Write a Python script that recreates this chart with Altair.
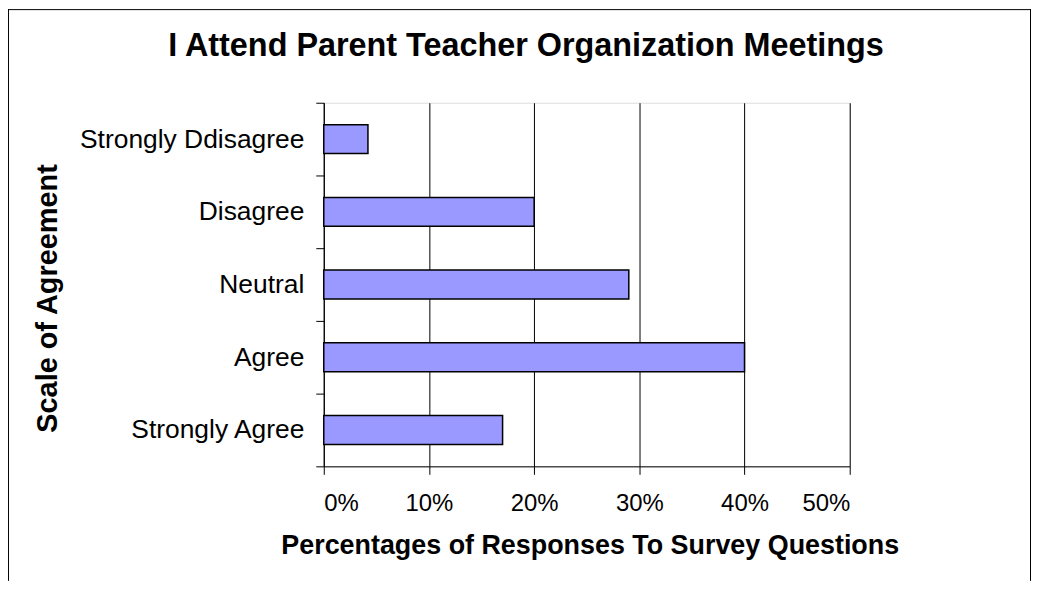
import altair as alt
import pandas as pd

categories = ["Strongly Ddisagree", "Disagree", "Neutral", "Agree", "Strongly Agree"]
values = [0.042, 0.20, 0.29, 0.40, 0.17]
x_ticks = [0, 0.1, 0.2, 0.3, 0.4, 0.5]

title_text = "I Attend Parent Teacher Organization Meetings"
x_title = "Percentages of Responses To Survey Questions"
y_title = "Scale of Agreement"

df = pd.DataFrame({"category": categories, "value": values})
one = pd.DataFrame({"k": [0]})

W, H = 528, 365
PL, PT, PR, PB = 317, 94, 182, 115
FONT = "Liberation Sans"

bars = alt.Chart(df).mark_bar(
    fill="#9999FF", stroke="#000000", strokeWidth=1.5, size=29
).encode(
    x=alt.X(
        "value:Q",
        scale=alt.Scale(domain=[0, 0.5], nice=False),
        axis=alt.Axis(
            values=x_ticks, format="%", title=x_title,
            grid=True, gridColor="#000000", gridWidth=1, gridOpacity=1,
            domainColor="#000000", domainWidth=1,
            tickColor="#000000", tickSize=8, tickWidth=1,
            labelFont=FONT, labelFontSize=24, labelColor="#000000",
            labelBaseline="alphabetic", labelPadding=36,
            titleFont=FONT, titleFontSize=27, titleFontWeight="bold", titleColor="#000000",
            titleBaseline="alphabetic", titleX=W / 2 + 3, titleY=88, titleAlign="center",
        ),
    ),
    y=alt.Y(
        "category:N",
        sort=categories,
        scale=alt.Scale(paddingInner=0, paddingOuter=0),
        axis=alt.Axis(
            title=y_title, grid=False, tickBand="extent",
            domainColor="#000000", domainWidth=1,
            tickColor="#000000", tickSize=8, tickWidth=1,
            labelFont=FONT, labelFontSize=26.5, labelColor="#000000", labelPadding=12,
            labelLimit=400,
            titleFont=FONT, titleFontSize=29, titleFontWeight="bold", titleColor="#000000",
            titleAngle=270, titleBaseline="alphabetic", titleAlign="center",
            titleX=-268, titleY=196,
        ),
    ),
)

left_border = alt.Chart(one).mark_rule(color="#000000", strokeWidth=1).encode(
    x=alt.value(-PL + 0.5), y=alt.value(-PT), y2=alt.value(H + PB)
)
top_border = alt.Chart(one).mark_rule(color="#000000", strokeWidth=1).encode(
    x=alt.value(-PL), x2=alt.value(W + PR), y=alt.value(-PT + 0.5)
)
right_border = alt.Chart(one).mark_rule(color="#000000", strokeWidth=1).encode(
    x=alt.value(W + PR - 0.5), y=alt.value(-PT), y2=alt.value(H + PB)
)

chart = alt.layer(bars, left_border, top_border, right_border).properties(
    width=W, height=H,
    autosize=alt.AutoSizeParams(type="none"),
    padding={"left": PL, "top": PT, "right": PR, "bottom": PB},
    title=alt.TitleParams(
        text=title_text, font=FONT, fontSize=32.5, fontWeight="bold", color="#000000",
        anchor="middle", frame="group", dx=-61, baseline="alphabetic", offset=-80,
    ),
).configure_view(stroke=None).configure(background="#ffffff")

chart.save("out.html", embed_options={"renderer": "svg", "actions": False})
